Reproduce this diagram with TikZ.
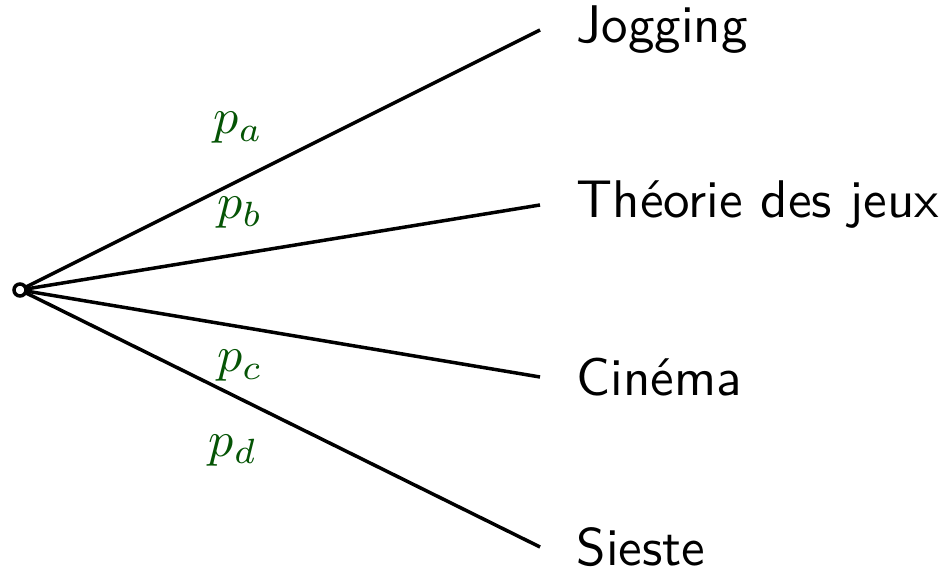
\documentclass[tikz,border=0pt]{standalone}
\usepackage{amsmath}
\usepackage{xcolor}
\definecolor{probgreen}{rgb}{0.02,0.33,0.02}
\tikzset{font={\fontsize{10pt}{12}\selectfont}}

\begin{document}
\begin{tikzpicture}[x=0.2pt,y=-0.2pt,line width=0.7pt,
                    root node/.style={circle,draw,fill=white,inner sep=0pt,minimum size=2.4pt},
                    leaf node/.style={anchor=west,inner sep=0pt,font=\sffamily\fontsize{10.6pt}{12}\selectfont},
                    prob/.style={text=probgreen,inner sep=0pt,font=\fontsize{10.3pt}{12}\selectfont}]
  \useasboundingbox (0,0) rectangle (940,567);

  \coordinate (jog) at (540,30);
  \coordinate (jeux) at (540,205);
  \coordinate (cine) at (540,377);
  \coordinate (sieste) at (540,547);

  \node[leaf node] (jogtxt) at (575,30) {Jogging};
  \node[leaf node] (jeuxtxt) at (575,205) {Théorie des jeux};
  \node[leaf node] (cinetxt) at (575,377) {Cinéma};
  \node[leaf node] (siestetxt) at (575,547) {Sieste};

  \path
    (20,290) coordinate (r)
    (r) edge node[prob,pos=0.42,yshift=10.6pt] (pa) {$p_a$} (jog)
        edge node[prob,pos=0.423,yshift=8.2pt] (pb) {$p_b$} (jeux)
        edge node[prob,pos=0.423,yshift=-7.8pt] (pc) {$p_c$} (cine)
        edge node[prob,pos=0.41,yshift=-11pt] (pd) {$p_d$} (sieste);
  \node[root node] (root) at (r) {};
\end{tikzpicture}
\end{document}
